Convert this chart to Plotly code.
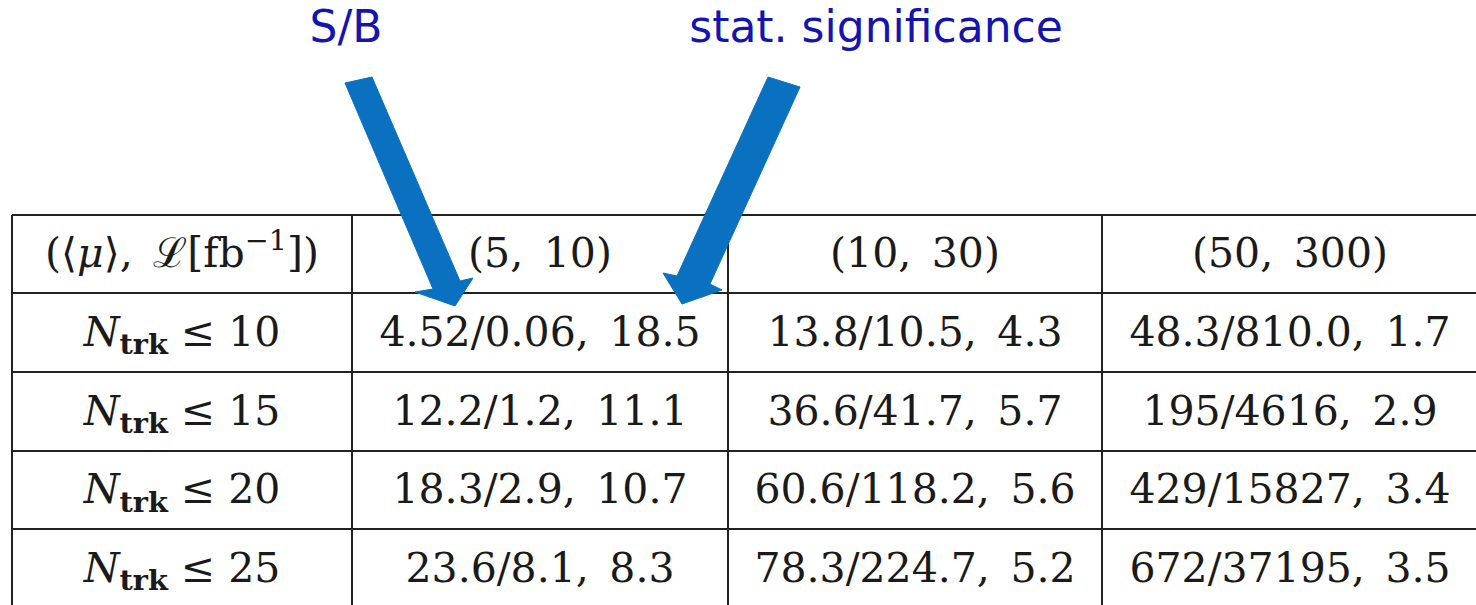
import plotly.graph_objects as go

# ---------------- data ----------------
mu_values = [5, 10, 50]
lumi_values = [10, 30, 300]
ntrk_max = [10, 15, 20, 25]

signal = [["4.52", "13.8", "48.3"],
          ["12.2", "36.6", "195"],
          ["18.3", "60.6", "429"],
          ["23.6", "78.3", "672"]]
background = [["0.06", "10.5", "810.0"],
              ["1.2", "41.7", "4616"],
              ["2.9", "118.2", "15827"],
              ["8.1", "224.7", "37195"]]
significance = [["18.5", "4.3", "1.7"],
                ["11.1", "5.7", "2.9"],
                ["10.7", "5.6", "3.4"],
                ["8.3", "5.2", "3.5"]]

corner_label = "(⟨<i>μ</i>⟩,\u2002ℒ[fb<sup>−1</sup>])"
callouts = ["S/B", "stat. significance"]

# ---------------- layout constants ----------------
W, H = 1476, 605
col_edges = [12, 352, 728, 1102, 1478]
row_edges = [215, 293, 372, 451, 529, 608]
line_color = "#222222"
text_color = "#1a1a1a"
arrow_color = "#0A70C0"
label_color = "#1414B0"
SP = "\u2002"

col_c = [(col_edges[i] + col_edges[i + 1]) / 2 for i in range(len(col_edges) - 1)]
row_c = [(row_edges[i] + row_edges[i + 1]) / 2 + 3 for i in range(len(row_edges) - 1)]

# cell texts
xs, ys, txt = [], [], []
xs.append(col_c[0]); ys.append(row_c[0]); txt.append(corner_label)
for j, (m, l) in enumerate(zip(mu_values, lumi_values)):
    xs.append(col_c[j + 1]); ys.append(row_c[0]); txt.append(f"({m},{SP}{l})")
for i, n in enumerate(ntrk_max):
    xs.append(col_c[0]); ys.append(row_c[i + 1])
    txt.append(f"<i>N</i><sub><b>trk</b></sub> ≤ {n}")
    for j in range(3):
        xs.append(col_c[j + 1]); ys.append(row_c[i + 1])
        txt.append(f"{signal[i][j]}/{background[i][j]},{SP}{significance[i][j]}")

fig = go.Figure()
fig.add_trace(go.Scatter(
    x=xs, y=ys, text=txt, mode="text", textposition="middle center",
    textfont=dict(family="DejaVu Serif", size=41, color=text_color),
    hoverinfo="skip", showlegend=False))

# grid lines (the table's right border lies beyond the visible area)
shapes = []
for y in row_edges:
    shapes.append(dict(type="line", xref="x", yref="y", x0=col_edges[0], x1=W + 20,
                       y0=y, y1=y, line=dict(color=line_color, width=2)))
for x in col_edges[:-1]:
    shapes.append(dict(type="line", xref="x", yref="y", x0=x, x1=x,
                       y0=row_edges[0], y1=row_edges[-1], line=dict(color=line_color, width=2)))

# arrows (filled polygons)
arrow1 = [(345, 83), (372, 77), (460, 281), (473, 278), (455, 306), (415, 292), (433, 289)]
arrow2 = [(768, 77), (800, 87), (710, 284), (722, 290), (682, 304), (663, 273), (677, 276)]
for poly in (arrow1, arrow2):
    path = "M " + " L ".join(f"{px},{py}" for px, py in poly) + " Z"
    shapes.append(dict(type="path", xref="x", yref="y", path=path,
                       fillcolor=arrow_color, line=dict(color=arrow_color, width=1),
                       layer="above"))

# callout labels
fig.add_trace(go.Scatter(
    x=[346, 876], y=[31, 31], text=callouts, mode="text", textposition="middle center",
    textfont=dict(family="DejaVu Sans", size=44, color=label_color),
    hoverinfo="skip", showlegend=False, cliponaxis=False))

fig.update_layout(
    width=W, height=H, margin=dict(l=0, r=0, t=0, b=0),
    paper_bgcolor="white", plot_bgcolor="white",
    xaxis=dict(range=[0, W], visible=False, fixedrange=True),
    yaxis=dict(range=[H, 0], visible=False, fixedrange=True),
    shapes=shapes, showlegend=False)

fig.write_html("out.html", config={"displayModeBar": False},
               post_script="document.body.style.margin='0';")
